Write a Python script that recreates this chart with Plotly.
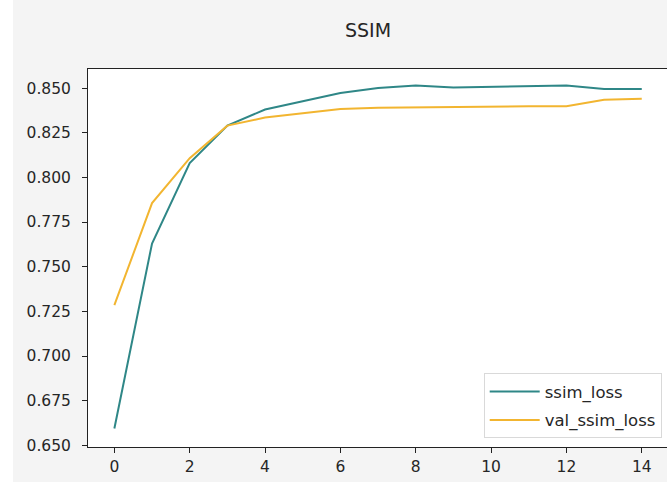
import plotly.graph_objects as go

epochs = list(range(15))
ssim_loss = [0.6594, 0.763, 0.808, 0.829, 0.838, 0.8425, 0.8473, 0.8500, 0.8515,
             0.8503, 0.8507, 0.8512, 0.8515, 0.8495, 0.8495]
val_ssim_loss = [0.7285, 0.7856, 0.8108, 0.8290, 0.8335, 0.8360, 0.8383, 0.8390, 0.8392,
                 0.8397, 0.8398, 0.8398, 0.8398, 0.8435, 0.8440]
y_ticks = [0.650, 0.675, 0.700, 0.725, 0.750, 0.775, 0.800, 0.825, 0.850]
x_ticks = [0, 2, 4, 6, 8, 10, 12, 14]

W, H = 667, 482
L, R, T, B = 88, 0, 69, 35
pw = W - L - R
ph = H - T - B

fig = go.Figure()
fig.add_trace(go.Scatter(x=epochs, y=ssim_loss, mode="lines", name="ssim_loss",
                         legendgroup="a",
                         line=dict(color="#2f8787", width=2)))
fig.add_trace(go.Scatter(x=epochs, y=val_ssim_loss, mode="lines", name="val_ssim_loss",
                         legendgroup="b",
                         line=dict(color="#f2b530", width=2)))

font_fam = "DejaVu Sans"
fig.update_layout(
    width=W, height=H,
    margin=dict(l=L, r=R, t=T, b=B, pad=0),
    paper_bgcolor="#f4f4f4",
    plot_bgcolor="#ffffff",
    font=dict(family=font_fam, size=15, color="#262626"),
    title=dict(text="SSIM", x=368 / W, xref="container", xanchor="center",
               y=1 - 30 / H, yref="container", yanchor="middle",
               font=dict(family=font_fam, size=19, color="#262626")),
    showlegend=True,
    legend=dict(x=(661.7 - L) / pw, xanchor="right", y=(H - B - 438.3) / ph, yanchor="bottom",
                bgcolor="#ffffff", bordercolor="#d9d9d9", borderwidth=1,
                font=dict(family=font_fam, size=16.5, color="#262626"),
                itemwidth=50, tracegroupgap=4),
    xaxis=dict(range=[-0.7, 14.67], tickvals=x_ticks, ticktext=[str(v) for v in x_ticks],
               showgrid=False, zeroline=False, showline=True, linecolor="#222222", linewidth=1,
               mirror=True, ticks="outside", ticklen=5, tickcolor="#222222",
               tickfont=dict(family=font_fam, size=15.5, color="#262626")),
    yaxis=dict(range=[0.64905, 0.8607], tickvals=y_ticks,
               ticktext=[f"{v:.3f}" for v in y_ticks],
               showgrid=False, zeroline=False, showline=True, linecolor="#222222", linewidth=1,
               mirror=False, ticks="outside", ticklen=5, tickcolor="#222222",
               ticklabelstandoff=8,
               tickfont=dict(family=font_fam, size=15.5, color="#262626")),
    shapes=[dict(type="rect", xref="paper", yref="paper",
                 x0=-L / pw, x1=(13 - L) / pw, y0=-B / ph, y1=(ph + T) / ph,
                 fillcolor="#ffffff", line=dict(width=0), layer="below")],
)

fig.write_html("out.html", config={"displayModeBar": False},
               post_script="document.body.style.margin='0';document.body.style.overflow='hidden';")
